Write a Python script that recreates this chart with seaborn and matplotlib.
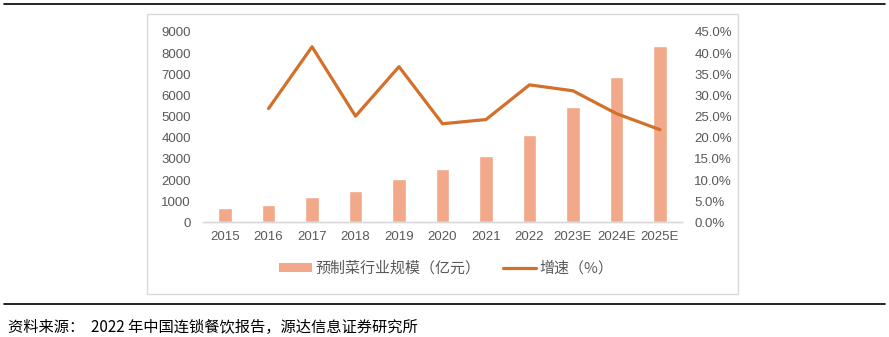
import numpy as np
import pandas as pd
import seaborn as sns
import matplotlib
matplotlib.use("Agg")
import matplotlib.pyplot as plt
from matplotlib.patches import Patch, Rectangle
from matplotlib.lines import Line2D
from matplotlib.ticker import FuncFormatter, MultipleLocator

# Market size of prepared dishes (100 million yuan) and year-on-year growth
years = ["2015", "2016", "2017", "2018", "2019", "2020", "2021", "2022",
         "2023E", "2024E", "2025E"]
market_size = [665, 839, 1187, 1487, 2041, 2516, 3149, 4146, 5459, 6851, 8339]
growth_pct = [np.nan, 26.9, 41.5, 25.1, 36.8, 23.3, 24.3, 32.5, 31.1, 25.7, 21.9]

bar_label = "预制菜行业规模（亿元）"
line_label = "增速（%）"
source_text = "资料来源：  2022 年中国连锁餐饮报告，源达信息证券研究所"

BAR_COLOR = "#F1A98A"
LINE_COLOR = "#D2702C"
TICK_COLOR = "#595959"
BOX_COLOR = "#D9D9D9"
CJK = ["Noto Sans CJK SC", "DejaVu Sans"]

sns.set_theme(style="white")
plt.rcParams["font.family"] = ["Liberation Sans", "Noto Sans CJK SC", "DejaVu Sans"]

df = pd.DataFrame({"year": years, "size": market_size,
                   "growth": np.array(growth_pct) / 100.0})
df["pos"] = np.arange(len(df))

fig = plt.figure(figsize=(8.89, 3.37), dpi=100)
ax = fig.add_axes([203.3 / 889, 1 - 222.3 / 337, 478.4 / 889, (222.3 - 32.0) / 337])

sns.barplot(data=df, x="year", y="size", color=BAR_COLOR, width=0.306,
            saturation=1, ax=ax)
ax.set_ylim(0, 9000)
ax.yaxis.set_major_locator(MultipleLocator(1000))
ax.set_xlabel("")
ax.set_ylabel("")

ax2 = ax.twinx()
sns.lineplot(data=df, x="pos", y="growth", color=LINE_COLOR, linewidth=2.3,
             ax=ax2, legend=False)
ax2.set_ylim(0, 0.45)
ax2.yaxis.set_major_locator(MultipleLocator(0.05))
ax2.yaxis.set_major_formatter(FuncFormatter(lambda v, _: f"{v * 100:.1f}%"))
ax2.set_ylabel("")
ax.set_xlim(-0.5, len(years) - 0.5)

for a in (ax, ax2):
    for side in ("top", "left", "right"):
        a.spines[side].set_visible(False)
    a.spines["bottom"].set_color(BOX_COLOR)
    a.spines["bottom"].set_linewidth(1.0)
    a.tick_params(length=0, labelsize=9.5, labelcolor=TICK_COLOR)
ax.tick_params(axis="y", pad=9)
ax.tick_params(axis="x", pad=6)
ax2.tick_params(axis="y", pad=9)

handles = [Patch(facecolor=BAR_COLOR, edgecolor="none", label=bar_label),
           Line2D([0], [0], color=LINE_COLOR, linewidth=2.3, label=line_label)]
fig.legend(handles=handles, loc="center", bbox_to_anchor=(446 / 889, 1 - 268.5 / 337),
           ncol=2, frameon=False, handlelength=2.2, handleheight=0.55,
           handletextpad=0.25, columnspacing=1.5,
           prop={"family": CJK, "size": 10.8}, labelcolor=TICK_COLOR)

# chart frame and report rules
fig.add_artist(Rectangle((147 / 889, 1 - 294 / 337), (738 - 147) / 889, (294 - 14) / 337,
                         transform=fig.transFigure, fill=False, edgecolor=BOX_COLOR,
                         linewidth=1.0))
fig.add_artist(Line2D([4 / 889, 885 / 889], [1 - 3.5 / 337] * 2, transform=fig.transFigure,
                      color="black", linewidth=1.2))
fig.add_artist(Line2D([4 / 889, 885 / 889], [1 - 304 / 337] * 2, transform=fig.transFigure,
                      color="black", linewidth=1.2))
fig.text(8 / 889, 1 - 327 / 337, source_text, ha="left", va="center", fontsize=11,
         color="black", family=CJK)

fig.savefig("out.png", dpi=100)
